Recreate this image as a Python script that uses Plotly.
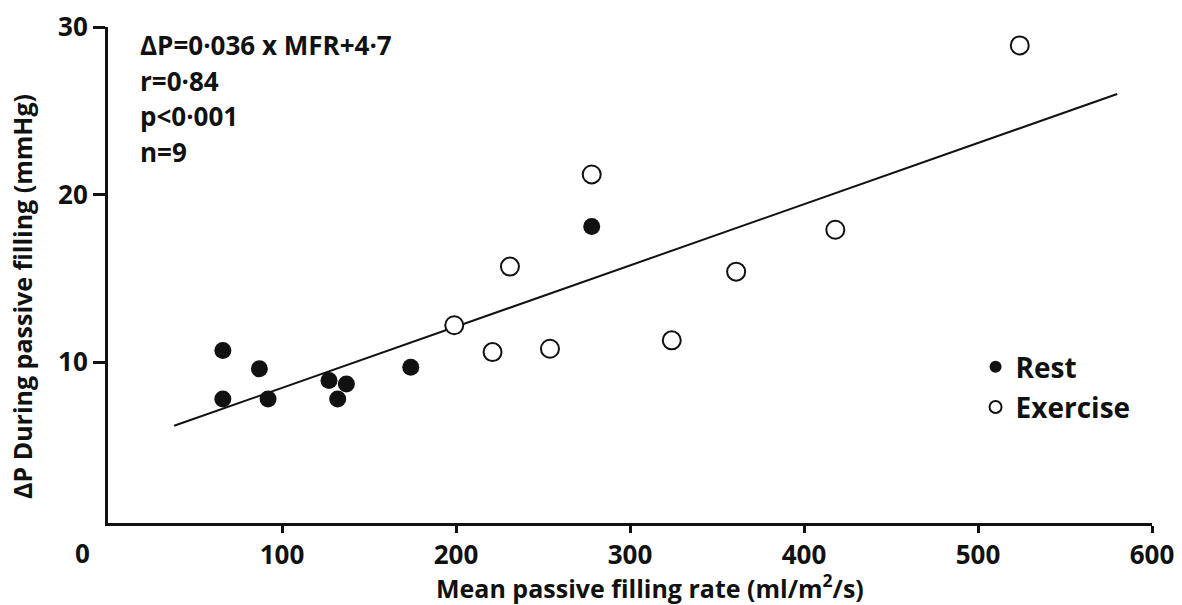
import plotly.graph_objects as go

# Data
rest_x = [66, 87, 66, 92, 127, 137, 132, 174, 278]
rest_y = [10.7, 9.6, 7.8, 7.8, 8.9, 8.7, 7.8, 9.7, 18.1]
ex_x = [199, 221, 231, 254, 278, 324, 361, 418, 524]
ex_y = [12.2, 10.6, 15.7, 10.8, 21.2, 11.3, 15.4, 17.9, 28.9]
fit_x = [38, 580]
fit_y = [6.2, 26.0]
x_ticks = [100, 200, 300, 400, 500, 600]
y_ticks = [10, 20, 30]
stats_lines = ["ΔP=0·036 x MFR+4·7", "r=0·84", "p<0·001", "n=9"]

FONT = "Open Sans"
BLACK = "#111111"

fig = go.Figure()
fig.add_trace(go.Scatter(x=fit_x, y=fit_y, mode="lines",
                         line=dict(color=BLACK, width=2), showlegend=False,
                         hoverinfo="skip"))
fig.add_trace(go.Scatter(x=rest_x, y=rest_y, mode="markers", name="Rest",
                         legendgroup="rest",
                         marker=dict(symbol="circle", size=17, color=BLACK,
                                     line=dict(width=0))))
fig.add_trace(go.Scatter(x=ex_x, y=ex_y, mode="markers", name="Exercise",
                         legendgroup="ex",
                         marker=dict(symbol="circle", size=18, color="white",
                                     line=dict(width=2, color=BLACK))))

fig.update_layout(
    width=1182, height=605,
    margin=dict(l=108, r=30, t=27, b=82),
    paper_bgcolor="white", plot_bgcolor="white",
    font=dict(family=FONT, size=22, color=BLACK, weight="bold"),
    showlegend=True,
    legend=dict(x=0.831, y=0.365, xanchor="left", yanchor="top",
                font=dict(family=FONT, size=28, color=BLACK, weight="bold"),
                bgcolor="rgba(0,0,0,0)", traceorder="grouped",
                tracegroupgap=1, itemsizing="constant"),
    xaxis=dict(range=[0, 600], tickvals=x_ticks,
               ticktext=[str(v) for v in x_ticks],
               showgrid=False, zeroline=False, showline=True, automargin=False,
               linecolor=BLACK, linewidth=3, ticks="outside", ticklen=7,
               tickwidth=3, tickcolor=BLACK,
               tickfont=dict(family=FONT, size=26, color=BLACK, weight="bold")),
    yaxis=dict(range=[0.4, 30], tickvals=y_ticks,
               ticktext=[str(v) for v in y_ticks],
               showgrid=False, zeroline=False, showline=True, automargin=False,
               linecolor=BLACK, linewidth=3, ticks="outside", ticklen=12,
               tickwidth=3, tickcolor=BLACK,
               tickfont=dict(family=FONT, size=26, color=BLACK, weight="bold")),
)

annotations = []
# Stats text block
for i, t in enumerate(stats_lines):
    annotations.append(dict(text=t, xref="paper", yref="paper",
                            x=(138 - 108) / 1044, y=1 - (45 + 35.5 * i - 27) / 496,
                            xanchor="left", yanchor="middle", showarrow=False,
                            font=dict(family=FONT, size=26, color=BLACK, weight="bold")))
# "0" label at the origin corner
annotations.append(dict(text="0", xref="paper", yref="paper",
                        x=(82 - 108) / 1044, y=-(553 - 523) / 496,
                        xanchor="center", yanchor="middle", showarrow=False,
                        font=dict(family=FONT, size=26, color=BLACK, weight="bold")))
# Axis titles
annotations.append(dict(text="Mean passive filling rate (ml/m<sup>2</sup>/s)",
                        xref="paper", yref="paper",
                        x=(650 - 108) / 1044, y=-(586 - 523) / 496,
                        xanchor="center", yanchor="middle", showarrow=False,
                        font=dict(family=FONT, size=25, color=BLACK, weight="bold")))
annotations.append(dict(text="ΔP During passive filling (mmHg)",
                        xref="paper", yref="paper", textangle=-90,
                        x=(22 - 108) / 1044, y=1 - (297 - 27) / 496,
                        xanchor="center", yanchor="middle", showarrow=False,
                        font=dict(family=FONT, size=25, color=BLACK, weight="bold")))
fig.update_layout(annotations=annotations)

fig.write_html("out.html", config={"displayModeBar": False},
               post_script="document.body.style.margin='0';document.body.style.overflow='hidden';")
